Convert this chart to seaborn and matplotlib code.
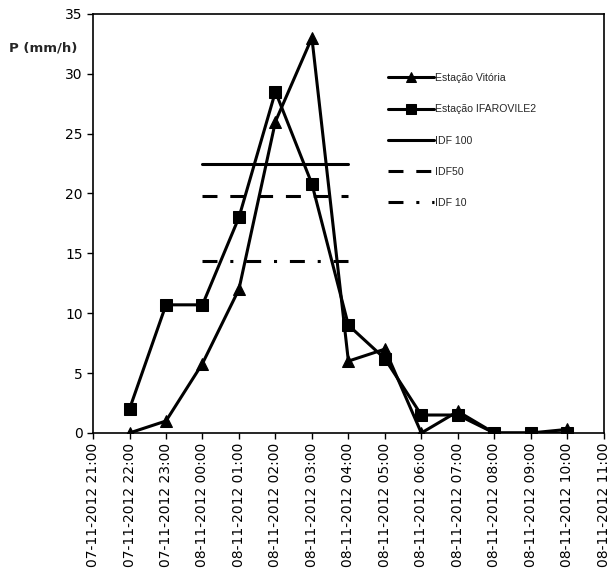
import matplotlib
matplotlib.use("Agg")
import matplotlib.pyplot as plt
import matplotlib.dates as mdates
import seaborn as sns
import pandas as pd
import numpy as np

times = pd.date_range("2012-11-07 22:00", "2012-11-08 10:00", freq="h")
vitoria = [0, 1, 5.8, 12, 26, 33, 6, 7, 0, 1.8, 0, 0, 0.3]
ifarovile = [2, 10.7, 10.7, 18, 28.5, 20.8, 9, 6.2, 1.5, 1.5, 0, 0, 0]
idf_names = ["IDF 100", "IDF50", "IDF 10"]
idf_values = [22.5, 19.8, 14.4]
idf_start = pd.Timestamp("2012-11-08 00:00")
idf_end = pd.Timestamp("2012-11-08 04:00")
series_names = ["Estação Vitória", "Estação IFAROVILE2"]

sns.set_theme(style="white")
plt.rcParams["font.family"] = ["DejaVu Sans"]

fig = plt.figure(figsize=(6.08, 5.75), dpi=100)
ax = fig.add_axes([0.153, 0.247, 0.840, 0.729])

df = pd.DataFrame({
    "time": list(times) * 2,
    "P": vitoria + ifarovile,
    "serie": [series_names[0]] * len(times) + [series_names[1]] * len(times),
})
sns.lineplot(data=df, x="time", y="P", hue="serie", style="serie",
             palette=["black", "black"], markers=["^", "s"], dashes=False,
             markersize=8, linewidth=2.2, markeredgecolor="black", ax=ax)

styles = ["-", (0, (4.9, 4.2)), (0, (4.9, 4.2, 1, 4.2))]
for name, val, ls in zip(idf_names, idf_values, styles):
    d = pd.DataFrame({"time": [idf_start, idf_end], "P": [val, val]})
    sns.lineplot(data=d, x="time", y="P", color="black", linewidth=2.2,
                 linestyle=ls, label=name, ax=ax)

ax.set_xlim(pd.Timestamp("2012-11-07 21:00"), pd.Timestamp("2012-11-08 11:00"))
ax.set_ylim(0, 35)
ax.set_yticks(range(0, 36, 5))
ax.xaxis.set_major_locator(mdates.HourLocator())
ax.xaxis.set_major_formatter(mdates.DateFormatter("%d-%m-%Y %H:%M"))
plt.setp(ax.get_xticklabels(), rotation=90)
ax.tick_params(axis="both", labelsize=10, length=4, width=1, color="black",
               direction="out", bottom=True, left=True, labelcolor="black")
ax.tick_params(axis="x", pad=3)
for s in ax.spines.values():
    s.set_color("black")
    s.set_linewidth(1.2)
ax.set_xlabel("")
ax.set_ylabel("")
fig.text(0.128, 0.9165, "P (mm/h)", fontsize=9.5, fontweight="bold", ha="right", va="center")

leg = ax.legend(loc="upper left", bbox_to_anchor=(0.577, 0.859), frameon=False,
                borderaxespad=0, borderpad=0,
                prop={"family": "Liberation Sans", "size": 7.6}, handlelength=4.4,
                labelspacing=2.02, handletextpad=0.05, markerscale=0.85)

fig.savefig("out.png", dpi=100)
